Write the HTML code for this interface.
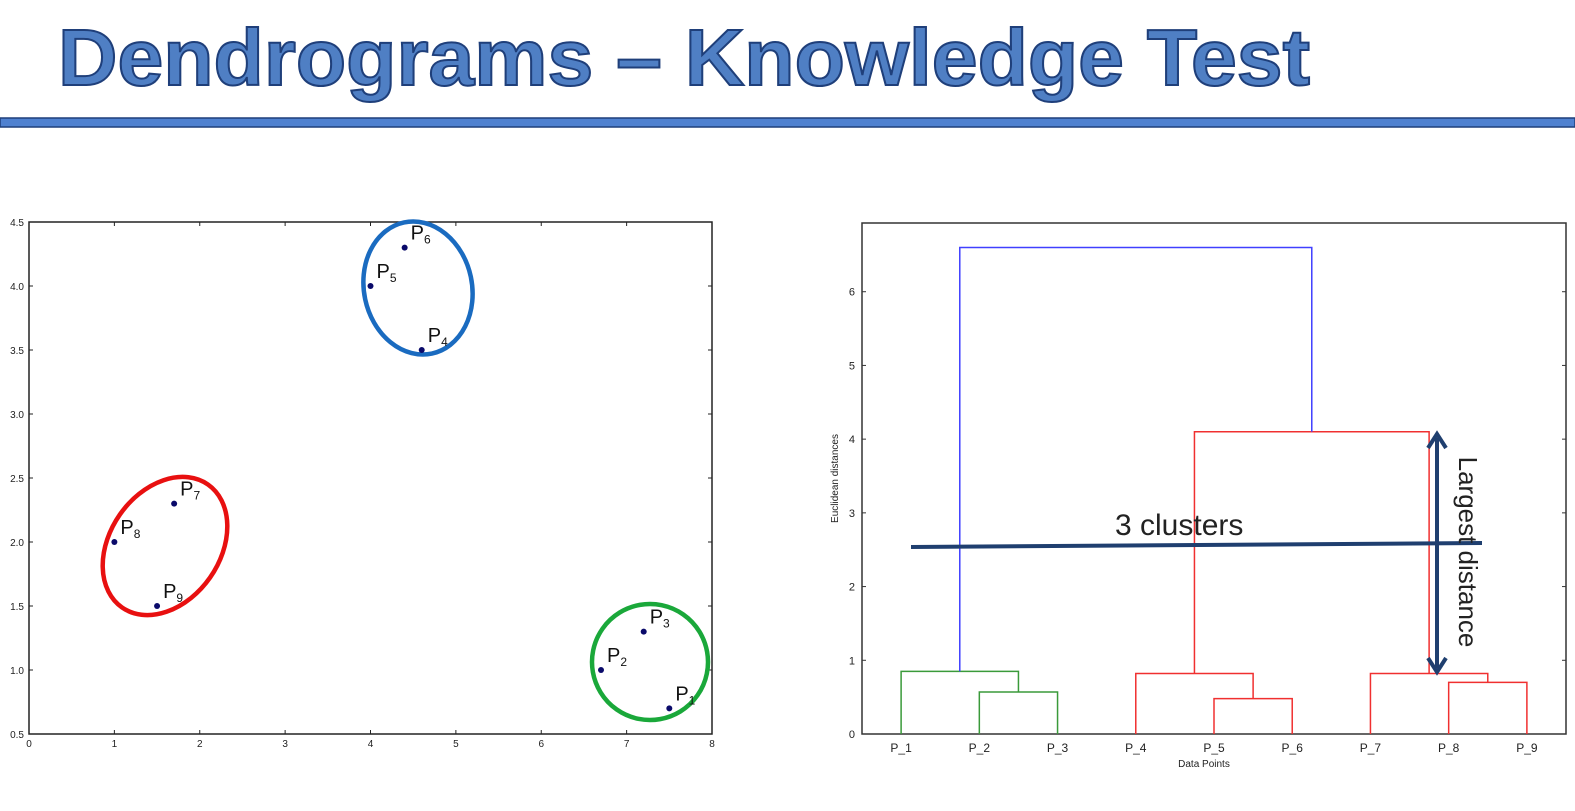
<!DOCTYPE html>
<html><head><meta charset="utf-8">
<style>
body{margin:0;width:1575px;height:811px;background:#fff;overflow:hidden;font-family:"Liberation Sans",sans-serif}
svg{position:absolute;left:0;top:0}
</style></head>
<body>
<svg id="s" width="1575" height="811" viewBox="0 0 1575 811">
  <text x="58" y="85" font-size="80" font-weight="bold" fill="#4f7fc4" stroke="#1f3f7a" stroke-width="2" textLength="1252" lengthAdjust="spacingAndGlyphs">Dendrograms – Knowledge Test</text>
  <rect x="0" y="118" width="1575" height="9" fill="#4f81d0" stroke="#1f3f7a" stroke-width="1.5"/>
  <g id="left"></g>
  <g id="right"></g>
</svg>
<script>
const NS="http://www.w3.org/2000/svg";
function mk(p,tag,a,txt){const e=document.createElementNS(NS,tag);for(const k in a)e.setAttribute(k,a[k]);if(txt!==undefined)e.textContent=txt;p.appendChild(e);return e;}

// scatter data
const ptLabels=["1","2","3","4","5","6","7","8","9"];
const ptX=[7.5,6.7,7.2,4.6,4.0,4.4,1.7,1.0,1.5];
const ptY=[0.7,1.0,1.3,3.5,4.0,4.3,2.3,2.0,1.5];
const xTicks=[0,1,2,3,4,5,6,7,8];
const yTicks=["0.5","1.0","1.5","2.0","2.5","3.0","3.5","4.0","4.5"];

// dendrogram data
const leafLabels=["P_1","P_2","P_3","P_4","P_5","P_6","P_7","P_8","P_9"];
const linkHeights=[0.57,0.85,0.48,0.82,0.70,0.82,4.1,6.6];
const dTicks=[0,1,2,3,4,5,6];

const L=document.getElementById('left');
const LX0=29,LX1=712,LY0=734,LY1=222;
const sx=v=>LX0+(v-0)/(8-0)*(LX1-LX0);
const sy=v=>LY0-(v-0.5)/(4.5-0.5)*(LY0-LY1);
mk(L,'rect',{x:LX0,y:LY1,width:LX1-LX0,height:LY0-LY1,fill:'none',stroke:'#222','stroke-width':1.5});
xTicks.forEach(t=>{const x=sx(t);
  const e=mk(L,'text',{x:x,y:LY0+13,'font-size':10,'text-anchor':'middle',fill:'#222'},String(t));
  
  mk(L,'line',{x1:x,x2:x,y1:LY0,y2:LY0-4,stroke:'#222'});mk(L,'line',{x1:x,x2:x,y1:LY1,y2:LY1+4,stroke:'#222'});});
yTicks.forEach(t=>{const y=sy(+t);
  const e=mk(L,'text',{x:LX0-5,y:y+4,'font-size':10,'text-anchor':'end',fill:'#222'},t);
  
  mk(L,'line',{x1:LX0,x2:LX0+4,y1:y,y2:y,stroke:'#222'});mk(L,'line',{x1:LX1,x2:LX1-4,y1:y,y2:y,stroke:'#222'});});
// cluster ellipses (hand-drawn annotations): cx, cy, rx, ry, rot, colour
const ells=[[418,288,54,67,-12,'#1a6bc0'],[165,546,55,75,35,'#e81010'],[650,662,58,58,-10,'#1aa83a']];
ells.forEach(([cx,cy,rx,ry,rot,c])=>{
  const e=mk(L,'ellipse',{cx:cx,cy:cy,rx:rx,ry:ry,fill:'none',stroke:c,'stroke-width':4.5,transform:`rotate(${rot} ${cx} ${cy})`});
  });
ptX.forEach((v,i)=>{const x=sx(v),y=sy(ptY[i]);
  const c=mk(L,'circle',{cx:x,cy:y,r:3,fill:'#0a0a6a'});
  
  const t=mk(L,'text',{x:x+6,y:y-8,'font-size':20,fill:'#111'},'P');
  
  mk(t,'tspan',{'font-size':12,dy:4},ptLabels[i]);});

// dendrogram
const R=document.getElementById('right');
const RX0=862,RX1=1566,RY0=734,RY1=223;
const dx=i=>RX0+(10*i+5)/90*(RX1-RX0);
const dy=v=>RY0-v/7*(RY0-RY1+5);
mk(R,'rect',{x:RX0,y:RY1,width:RX1-RX0,height:RY0-RY1,fill:'none',stroke:'#333','stroke-width':1.5});
dTicks.forEach(t=>{const y=dy(t);
  const e=mk(R,'text',{x:RX0-7,y:y+4,'font-size':11,'text-anchor':'end',fill:'#222'},String(t));
  
  mk(R,'line',{x1:RX0,x2:RX0+4,y1:y,y2:y,stroke:'#333'});mk(R,'line',{x1:RX1,x2:RX1-4,y1:y,y2:y,stroke:'#333'});});
leafLabels.forEach((l,i)=>{const e=mk(R,'text',{x:dx(i),y:RY0+18,'font-size':12,'text-anchor':'middle',fill:'#222'},l);
  });
let t=mk(R,'text',{x:(RX0+RX1)/2-10,y:RY0+33,'font-size':10,'text-anchor':'middle',fill:'#222'},'Data Points');

t=mk(R,'text',{x:0,y:0,'font-size':10,'text-anchor':'middle',fill:'#222',transform:`translate(838 ${(RY0+RY1)/2}) rotate(-90)`},'Euclidean distances');

function link(xl,yl,xr,yr,h,c){const p=mk(R,'path',{d:`M${xl} ${dy(yl)}V${dy(h)}H${xr}V${dy(yr)}`,fill:'none',stroke:c,'stroke-width':1.5});
  return (xl+xr)/2;}
const g='#3a9a3a',r='#f03030',b='#4040ff',H=linkHeights;
const m23=link(dx(1),0,dx(2),0,H[0],g);
const mA=link(dx(0),0,m23,H[0],H[1],g);
const m56=link(dx(4),0,dx(5),0,H[2],r);
const mB=link(dx(3),0,m56,H[2],H[3],r);
const m89=link(dx(7),0,dx(8),0,H[4],r);
const mC=link(dx(6),0,m89,H[4],H[5],r);
const mBC=link(mB,H[3],mC,H[5],H[6],r);
link(mA,H[1],mBC,H[6],H[7],b);
// annotations
mk(R,'line',{x1:911,y1:547,x2:1482,y2:543,stroke:'#1f3f6f','stroke-width':4,});
mk(R,'text',{x:1115,y:535,'font-size':30,fill:'#222',},'3 clusters');
mk(R,'line',{x1:1437,y1:438,x2:1437,y2:668,stroke:'#1f3f6f','stroke-width':4,});
mk(R,'path',{d:'M1428 448L1437 434L1446 448M1428 658L1437 672L1446 658',fill:'none',stroke:'#1f3f6f','stroke-width':4});
mk(R,'text',{x:0,y:0,'font-size':26,fill:'#222','text-anchor':'middle',transform:'translate(1459 552) rotate(90)',},'Largest distance');
</script>
</body></html>
